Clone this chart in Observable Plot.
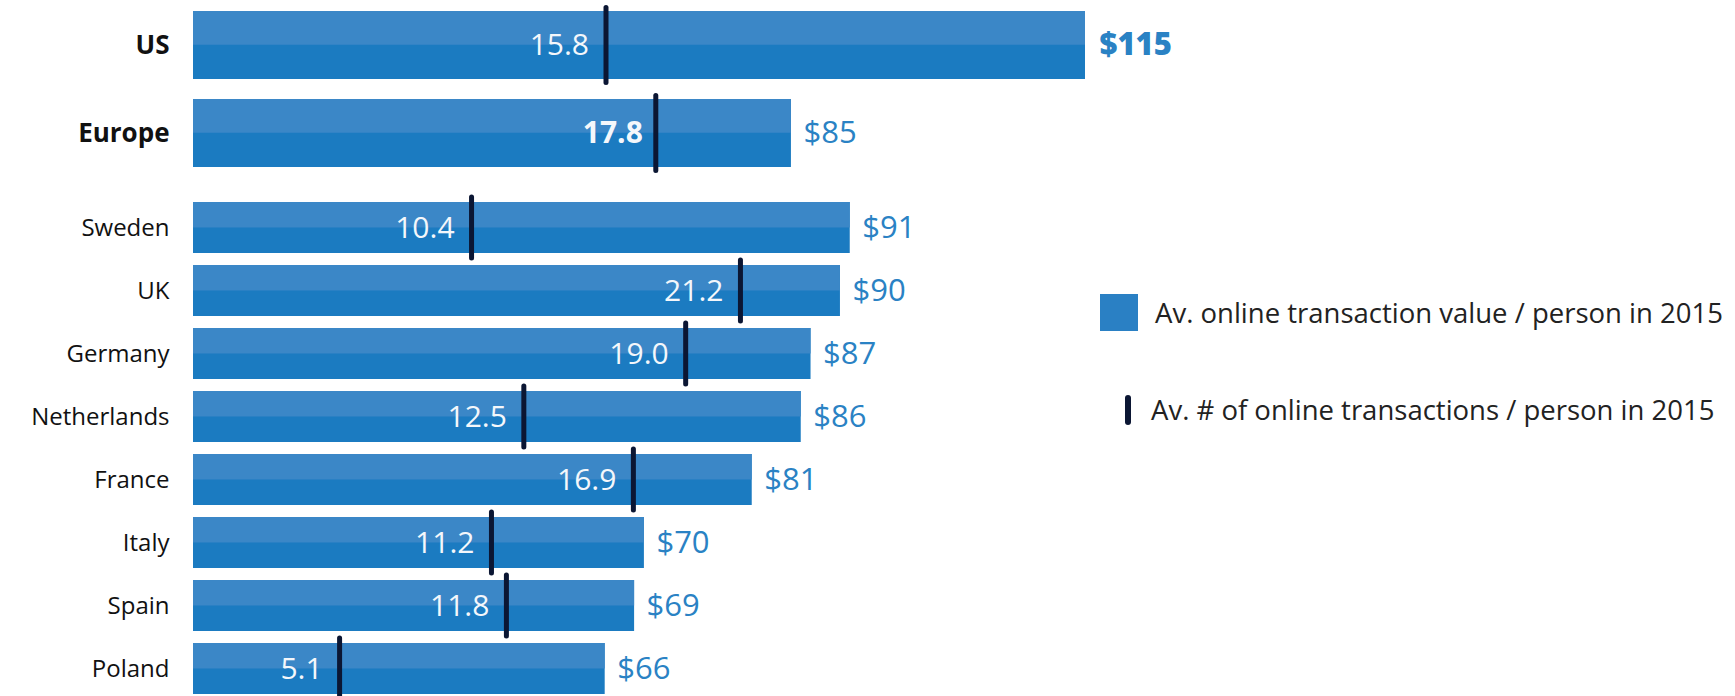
<!DOCTYPE html>
<html>
<head>
<meta charset="utf-8">
<script src="https://cdn.jsdelivr.net/npm/d3@7"></script>
<script src="https://cdn.jsdelivr.net/npm/@observablehq/plot@0.6"></script>
<style>
  html, body { margin: 0; padding: 0; background: #fff; overflow: hidden; }
  #wrap { position: relative; width: 1735px; height: 696px; font-family: "Open Sans", sans-serif; }
  #wrap svg { display: block; }
  .legend { position: absolute; left: 0; top: 0; }
  .li { position: absolute; display: flex; align-items: center; font-size: 27.5px; color: #222; white-space: nowrap; }
  .sw { width: 38px; height: 37px; background: #2a80c4; margin-right: 17px; }
  .tk { width: 6px; height: 30px; border-radius: 3px; background: #0b1633; margin-right: 20px; }
</style>
</head>
<body>
<div id="wrap"></div>
<script>
// ---- data ----
const topNames = ["US", "Europe"];
const topValues = [115, 85];          // Av. online transaction value / person in 2015 ($)
const topCounts = [15.8, 17.8];       // Av. # of online transactions / person in 2015

const countryNames = ["Sweden", "UK", "Germany", "Netherlands", "France", "Italy", "Spain", "Poland"];
const countryValues = [91, 90, 87, 86, 81, 70, 69, 66];
const countryCounts = [10.4, 21.2, 19.0, 12.5, 16.9, 11.2, 11.8, 5.1];

const legendLabels = [
  "Av. online transaction value / person in 2015",
  "Av. # of online transactions / person in 2015"
];

// ---- scales / styling ----
const xMin = 24, xMax = 115;               // value axis as drawn
// secondary (count) axis expressed on the value axis
const countAxis = d3.scaleLinear().domain([0, 10]).range([25.95, 51.35]);

const darkBlue = "#1b7bc1";
const lightBlue = "#3b87c7";
const labelBlue = "#2a82c4";
const tickColor = "#0b1633";
const font = "'Open Sans', sans-serif";

function chart(names, values, counts, cfg) {
  const data = names.map((name, i) => ({name, value: values[i], count: counts[i]}));
  const step = (cfg.range[1] - cfg.range[0]) / names.length;
  const bw = step * (1 - cfg.pad);
  const isBig = d => cfg.highlightMax && d.value === d3.max(values);
  const isBoldCount = d => cfg.boldCount.includes(d.name);
  const cx = d => countAxis(d.count);
  return Plot.plot({
    width: 1735,
    height: cfg.height,
    marginLeft: 193,
    marginRight: 650,
    marginTop: 0,
    marginBottom: 0,
    style: {fontFamily: font, background: "transparent", overflow: "visible"},
    x: {domain: [xMin, xMax], axis: null},
    y: {domain: names, range: cfg.range, paddingInner: cfg.pad, paddingOuter: cfg.pad / 2, axis: null},
    marks: [
      Plot.barX(data, {x1: xMin, x2: "value", y: "name", fill: darkBlue}),
      Plot.barX(data, {x1: xMin, x2: "value", y: "name", fill: lightBlue, insetBottom: bw / 2}),
      Plot.tickX(data, {x: cx, y: "name", stroke: tickColor, strokeWidth: 5,
        strokeLinecap: "round", insetTop: -cfg.ext, insetBottom: -cfg.ext}),
      Plot.text(data.filter(d => !isBoldCount(d)), {x: cx, y: "name", text: d => d.count.toFixed(1),
        dx: -17, textAnchor: "end", fill: "#f4f7fb", fontSize: 30}),
      Plot.text(data.filter(isBoldCount), {x: cx, y: "name", text: d => d.count.toFixed(1),
        dx: -13, textAnchor: "end", fill: "#f4f7fb", fontSize: 30, fontWeight: "bold"}),
      Plot.text(data.filter(d => !isBig(d)), {x: "value", y: "name", text: d => "$" + d.value,
        dx: 12, textAnchor: "start", fill: labelBlue, fontSize: 31, fontWeight: 500}),
      Plot.text(data.filter(isBig), {x: "value", y: "name", text: d => "$" + d.value,
        dx: 14, textAnchor: "start", fill: labelBlue, fontSize: 31, fontWeight: 800}),
      Plot.axisY({tickSize: 0, tickPadding: 24, fontSize: cfg.nameSize, fontWeight: cfg.nameWeight,
        color: "#111", label: null})
    ]
  });
}

const wrap = document.getElementById("wrap");
wrap.append(chart(topNames, topValues, topCounts, {
  height: 178, range: [1, 178], pad: 0.226, ext: 3.5,
  boldCount: ["Europe"], nameWeight: "bold", nameSize: 26, highlightMax: true
}));
wrap.append(chart(countryNames, countryValues, countryCounts, {
  height: 524, range: [16.5, 523.5], pad: 0.195, ext: 5,
  boldCount: [], nameWeight: "normal", nameSize: 24, highlightMax: false
}));

// legend
const legend = document.createElement("div");
legend.className = "legend";
legend.innerHTML = `
  <div class="li" style="left:1100px; top:294px;"><div class="sw"></div><span>${legendLabels[0]}</span></div>
  <div class="li" style="left:1125px; top:391px;"><div class="tk"></div><span>${legendLabels[1]}</span></div>
`;
wrap.append(legend);
</script>
</body>
</html>
